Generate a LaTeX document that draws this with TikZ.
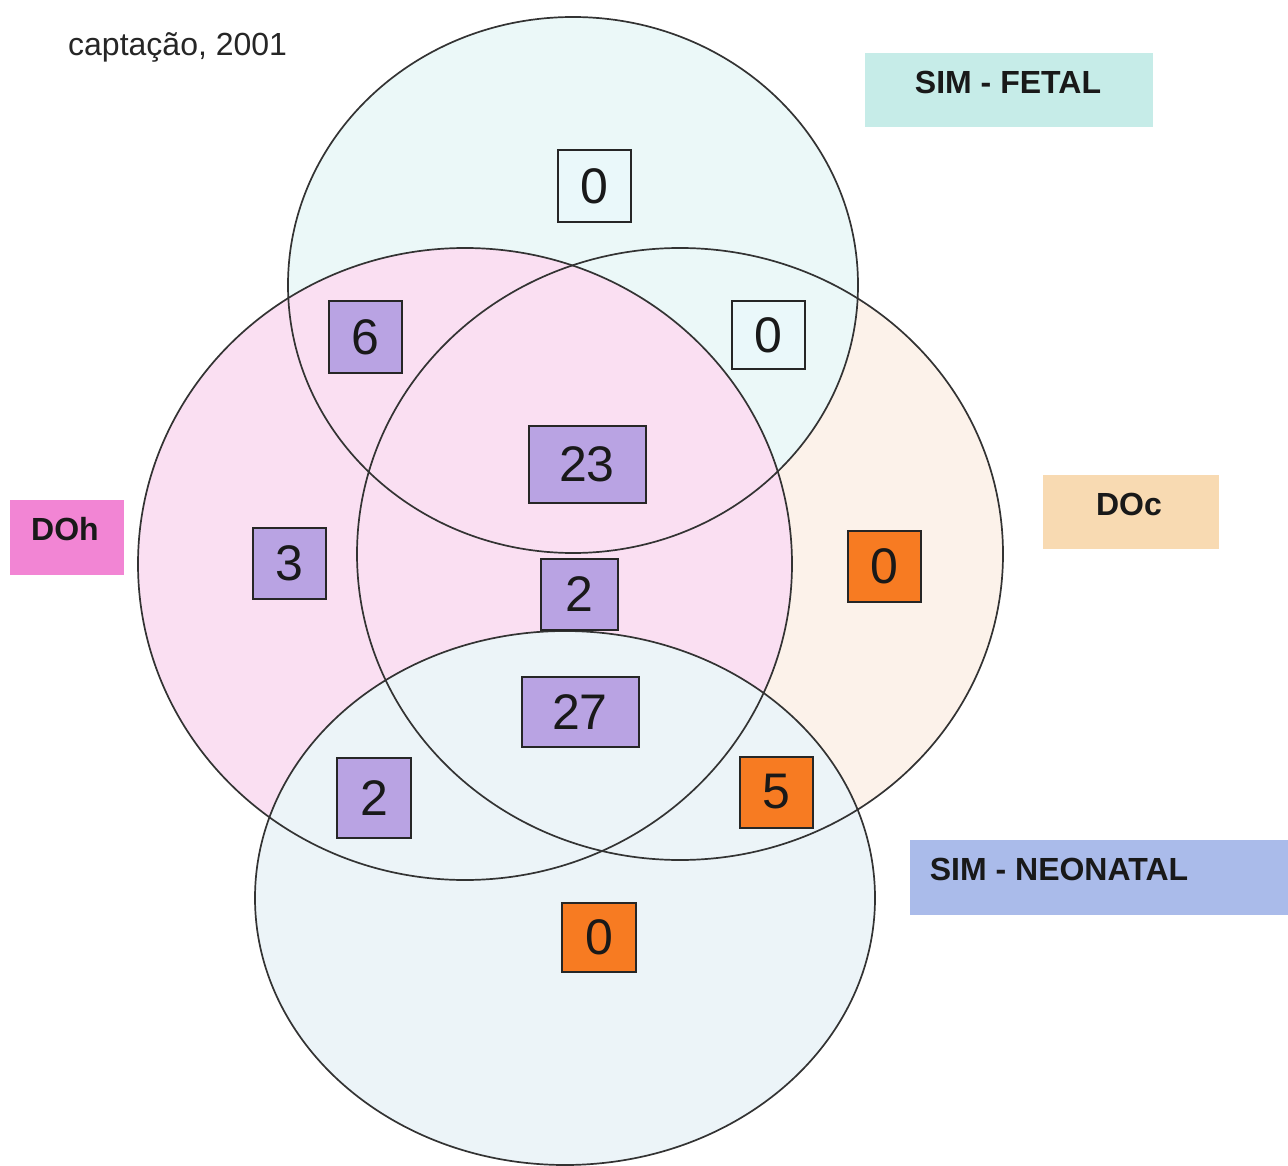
\documentclass[tikz,border=0pt]{standalone}
\usepackage{fontspec}
\setmainfont{Liberation Sans}
\begin{document}
\begin{tikzpicture}[x=1pt,y=-1pt,
  circ/.style={draw=black!80, line width=1.7pt},
  numbox/.style={draw=black!85, line width=2pt, inner sep=0pt, font=\fontsize{50}{56}\selectfont, text=black!90},
  purp/.style={numbox, fill=purpbox},
  oran/.style={numbox, fill=orangebox},
  whit/.style={numbox, fill=whitebox},
  labtext/.style={font=\bfseries\fontsize{32}{38}\selectfont, text=black!90, inner sep=0pt}
]
\definecolor{purpbox}{HTML}{B9A3E3}
\definecolor{orangebox}{HTML}{F77B22}
\definecolor{whitebox}{HTML}{EAF8FA}
\definecolor{topfill}{HTML}{EBF8F8}
\definecolor{leftfill}{HTML}{FADFF2}
\definecolor{rightfill}{HTML}{FCF2EA}
\definecolor{botfill}{HTML}{ECF4F8}
\definecolor{fetalbg}{HTML}{C6ECE8}
\definecolor{dohbg}{HTML}{F285D4}
\definecolor{docbg}{HTML}{F8DAB2}
\definecolor{neobg}{HTML}{AABBEA}
\useasboundingbox (0,0) rectangle (1288,1166);
% filled circles, in stacking order
\fill[rightfill] (680,554) ellipse [x radius=323pt, y radius=306pt];
\fill[topfill] (573,285) ellipse [x radius=285pt, y radius=268pt];
\fill[leftfill] (465,564) ellipse [x radius=327pt, y radius=316pt];
\fill[botfill] (565,898) ellipse [x radius=310pt, y radius=267pt];
% outlines
\draw[circ] (680,554) ellipse [x radius=323pt, y radius=306pt];
\draw[circ] (573,285) ellipse [x radius=285pt, y radius=268pt];
\draw[circ] (465,564) ellipse [x radius=327pt, y radius=316pt];
\draw[circ] (565,898) ellipse [x radius=310pt, y radius=267pt];
% title fragment
\node[anchor=base west, inner sep=0pt, font=\fontsize{32}{38}\selectfont, text=black!85] (title) at (68,56) {captação, 2001};
% labels
\fill[fetalbg] (865,53) rectangle (1153,127);
\node[labtext] (fetal) at (1008,82) {SIM - FETAL};
\fill[dohbg] (10,500) rectangle (124,575);
\node[labtext] (doh) at (65,529) {DOh};
\fill[docbg] (1043,475) rectangle (1219,549);
\node[labtext] (doc) at (1129,504) {DOc};
\fill[neobg] (910,840) rectangle (1288,915);
\node[labtext] (neo) at (1059,869) {SIM - NEONATAL};
% number boxes
\node[whit, minimum width=73pt, minimum height=72pt] (n1) at (594,186) {0};
\node[purp, minimum width=73pt, minimum height=71pt] (n2) at (365,337) {6};
\node[whit, minimum width=73pt, minimum height=68pt] (n3) at (768,335) {0};
\node[purp, minimum width=117pt, minimum height=77pt] (n4) at (587,464) {23};
\node[purp, minimum width=73pt, minimum height=71pt] (n5) at (289,563) {3};
\node[purp, minimum width=77pt, minimum height=71pt] (n6) at (579,594) {2};
\node[oran, minimum width=73pt, minimum height=71pt] (n7) at (884,566) {0};
\node[purp, minimum width=117pt, minimum height=70pt] (n8) at (580,712) {27};
\node[purp, minimum width=74pt, minimum height=80pt] (n9) at (374,798) {2};
\node[oran, minimum width=73pt, minimum height=71pt] (n10) at (776,792) {5};
\node[oran, minimum width=74pt, minimum height=69pt] (n11) at (599,937) {0};
\end{tikzpicture}
\end{document}
